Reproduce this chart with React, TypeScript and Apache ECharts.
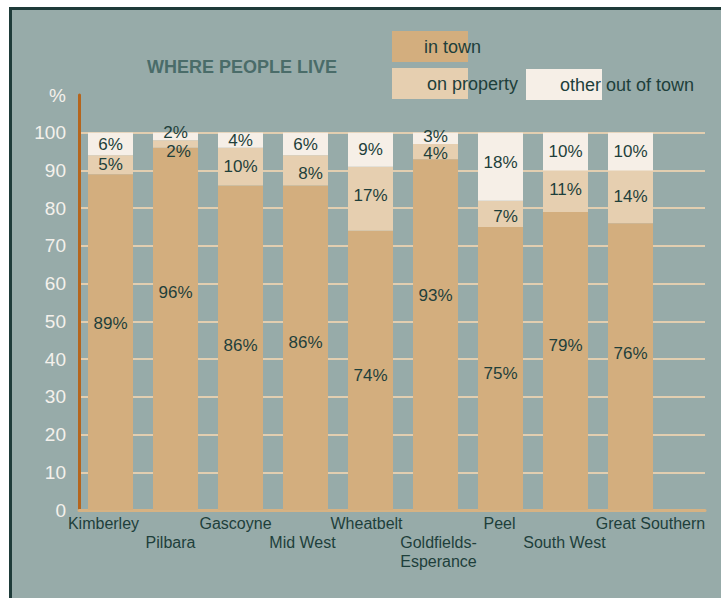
import React, { useEffect, useRef } from "react";
import * as echarts from "echarts";

const categories = [
  "Kimberley",
  "Pilbara",
  "Gascoyne",
  "Mid West",
  "Wheatbelt",
  "Goldfields-\nEsperance",
  "Peel",
  "South West",
  "Great Southern",
];
const inTown = [89, 96, 86, 86, 74, 93, 75, 79, 76];
const onProperty = [5, 2, 10, 8, 17, 4, 7, 11, 14];
const otherOutOfTown = [6, 2, 4, 6, 9, 3, 18, 10, 10];
const seriesNames = ["in town", "on property", "other out of town"];
const yMin = 0;
const yMax = 110;
const yInterval = 10;

// label nudges (style only)
const catLabelShift = [-7, -5, -5, -3, -4, 3, -1, -1, 20];
const inTownLabelDy = [-19, -36, -2, -5, 5, -39, 5, -15, -13];
const propLabelOff = [[0, 0], [3, 7], [0, 0], [5, 3], [0, -3], [0, 2], [5, 3], [0, -2], [0, 0]];
const otherLabelOff = [[0, 0], [0, -4], [0, 0], [0, 0], [0, 0], [0, -2], [0, -4], [0, 0], [0, 0]];

const FONT = "Liberation Sans";
const C_TOWN = "#D3AE7E";
const C_PROP = "#E6CFB0";
const C_OTHER = "#F6EFE7";
const C_TEXT = "#1E3F3B";

export default function App() {
  const ref = useRef<HTMLDivElement>(null);
  useEffect(() => {
    if (!ref.current) return;
    const chart = echarts.init(ref.current, null, { renderer: "svg" });
    const labelBase = {
      show: true,
      position: "inside",
      formatter: "{c}%",
      color: C_TEXT,
      fontFamily: FONT,
      fontSize: 17,
    };
    const legendBase = (name: string, left: number, top: number, dx: number) => ({
      data: [name],
      left,
      top,
      padding: 0,
      itemWidth: 76,
      itemHeight: 31,
      icon: "rect",
      selectedMode: false,
      textStyle: {
        color: C_TEXT,
        fontFamily: FONT,
        fontSize: 18,
        padding: [0, 0, 0, dx],
      },
    });
    const barSeries = (name: string, color: string, data: any[]) => ({
      name,
      type: "bar",
      stack: "total",
      xAxisIndex: 1,
      yAxisIndex: 1,
      barWidth: 45,
      z: 10,
      itemStyle: { color },
      data,
      label: labelBase,
    });
    chart.setOption({
      animation: false,
      backgroundColor: "transparent",
      title: {
        text: "WHERE PEOPLE LIVE",
        left: 147,
        top: 58,
        padding: 0,
        textStyle: {
          color: "#4A6C69",
          fontFamily: FONT,
          fontWeight: "bold",
          fontSize: 18,
        },
      },
      legend: [
        legendBase(seriesNames[0], 392, 31, -49),
        legendBase(seriesNames[1], 392, 68, -46),
        legendBase(seriesNames[2], 526, 69, -47),
      ],
      grid: [
        { left: 79, right: 16, top: 95, bottom: 88 },
        { left: 78, width: 585, top: 95, bottom: 88 },
      ],
      xAxis: [
        {
          gridIndex: 0,
          type: "value",
          min: 0,
          max: 1,
          z: 1,
          axisLine: { show: true, onZero: false, lineStyle: { color: "#D6B283", width: 3 } },
          axisTick: { show: false },
          axisLabel: { show: false },
          splitLine: { show: false },
        },
        {
          gridIndex: 1,
          type: "category",
          data: categories.map((c, i) => ({
            value: c,
            textStyle: {
              padding:
                catLabelShift[i] < 0
                  ? [0, -2 * catLabelShift[i], 0, 0]
                  : [0, 0, 0, 2 * catLabelShift[i]],
            },
          })),
          axisLine: { show: false },
          axisTick: { show: false },
          axisLabel: {
            interval: 0,
            margin: 4,
            color: C_TEXT,
            fontFamily: FONT,
            fontSize: 16,
            lineHeight: 19,
            formatter: (v: string, i: number) => (i % 2 ? "\n" + v : v),
          },
        },
      ],
      yAxis: [
        {
          gridIndex: 0,
          type: "value",
          min: yMin,
          max: yMax,
          interval: yInterval,
          z: 1,
          axisLine: { show: true, lineStyle: { color: "#B5651D", width: 3 } },
          axisTick: { show: false },
          axisLabel: {
            margin: 13,
            color: "#F4F1EC",
            fontFamily: FONT,
            fontSize: 19,
            formatter: (v: number) => (v === yMax ? "%" : String(v)),
          },
          splitLine: {
            show: true,
            showMaxLine: false,
            showMinLine: false,
            lineStyle: { color: "#E2CEB0", width: 2 },
          },
        },
        {
          gridIndex: 1,
          type: "value",
          min: yMin,
          max: yMax,
          interval: yInterval,
          show: false,
        },
      ],
      series: [
        barSeries(
          seriesNames[0],
          C_TOWN,
          inTown.map((v, i) => ({ value: v, label: { offset: [0, inTownLabelDy[i]] } }))
        ),
        barSeries(
          seriesNames[1],
          C_PROP,
          onProperty.map((v, i) => ({ value: v, label: { offset: propLabelOff[i] } }))
        ),
        barSeries(
          seriesNames[2],
          C_OTHER,
          otherOutOfTown.map((v, i) => ({ value: v, label: { offset: otherLabelOff[i] } }))
        ),
      ],
    });
    return () => chart.dispose();
  }, []);
  return (
    <>
      <div
        style={{
          position: "fixed",
          left: 9,
          top: 7,
          right: 0,
          bottom: 0,
          background: "#97ABA9",
          borderLeft: "3px solid #1E3B39",
          borderTop: "3px solid #1E3B39",
        }}
      />
      <div
        ref={ref}
        style={{ position: "fixed", left: 0, top: 0, width: 721, height: 598 }}
      />
    </>
  );
}
